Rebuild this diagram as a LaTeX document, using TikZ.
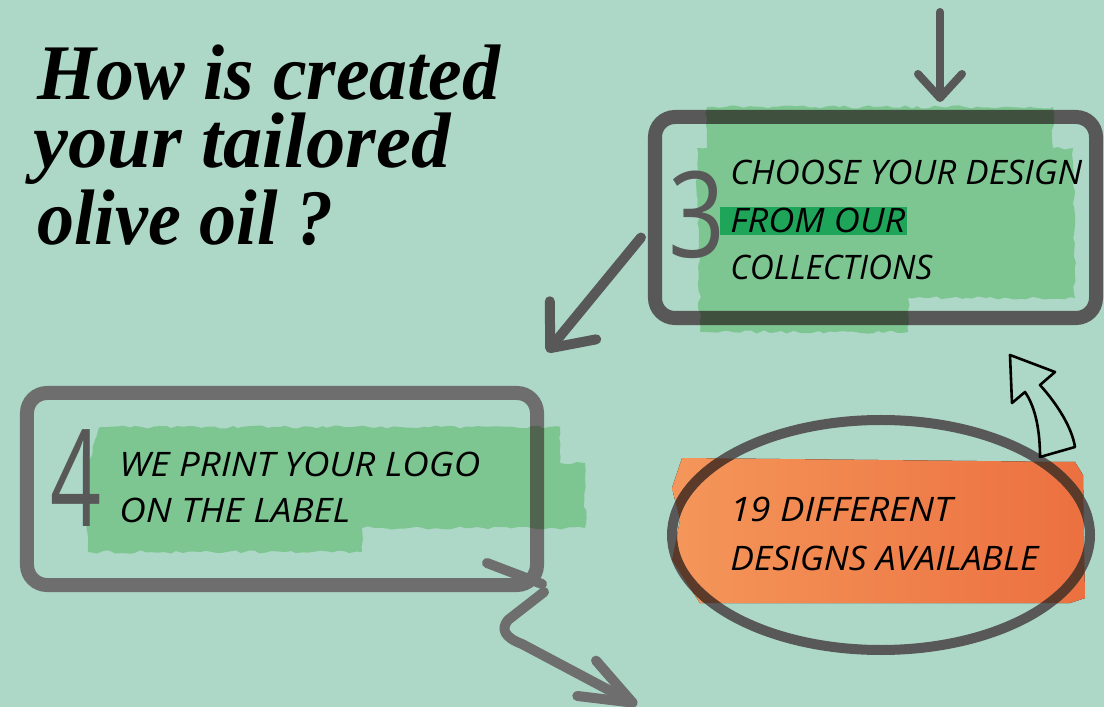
\documentclass[tikz,border=0pt]{standalone}
\usepackage{fontspec}
\usepackage{graphicx}
\usetikzlibrary{arrows.meta,shapes.geometric,decorations.pathmorphing,positioning,calc}

\newfontfamily\titlefont{Liberation Serif}
\newfontfamily\handfont{Open Sans}

\definecolor{bgmint}{RGB}{173,216,200}
\definecolor{frameA}{RGB}{88,88,88}
\definecolor{frameB}{RGB}{110,110,110}
\definecolor{brushgreen}{RGB}{187,234,185}
\definecolor{markgreen}{RGB}{30,165,90}
\definecolor{orangeL}{RGB}{244,150,90}
\definecolor{orangeR}{RGB}{236,112,64}
\definecolor{ovalbrown}{RGB}{92,58,42}

% fit a text to a given width, keep its height
\newcommand{\fitw}[2]{\resizebox{#1}{\height}{#2}}
\def\orangeblob{(682,458) -- (1075,462) -- (1083,475) -- (1085,598) -- (1070,603) -- (700,603) -- (690,588) -- (672,560) -- (680,520) -- (672,488) -- cycle}

\begin{document}
\begin{tikzpicture}[x=0.25mm,y=-0.25mm]
    \tikzset{headline/.style = {font=\titlefont\bfseries\itshape\fontsize{56}{56}\selectfont, anchor=base west, inner sep=0}}
    \tikzset{handtext/.style = {font=\handfont\itshape\fontsize{24}{24}\selectfont, anchor=base west, inner sep=0}}
    \tikzset{bignum/.style = {font=\handfont\fontsize{#1}{#1}\selectfont, text=frameA, anchor=base west, inner sep=0}}
    \tikzset{boxframe/.style = {draw, rectangle, rounded corners=5mm, line width=3.5mm, inner sep=0}}
    \tikzset{ovalring/.style = {draw, ellipse, minimum width=104.5mm, minimum height=57.5mm, line width=2.5mm, inner sep=0}}
    \tikzset{pen/.style = {line width=#1, line cap=round, line join=round}}
    \tikzset{brush/.style = {decorate, decoration={random steps, segment length=1.5mm, amplitude=0.4mm}}}
    \pgfmathsetseed{7}

    \fill[bgmint] (0,0) rectangle (1104,707);
    \useasboundingbox (0,0) rectangle (1104,707);

    % title
    \node[headline] (title1) at (37,100) {\fitw{115.75mm}{How is created}};
    \node[headline] (title2) at (33,168) {\fitw{104.25mm}{your tailored}};
    \node[headline] (title3) at (37,245) {\fitw{74mm}{olive oil ?}};

    % frames
    \node[boxframe, draw=frameA, minimum width=110.25mm, minimum height=50.25mm] (choose) at (875.5,217.5) {};
    \node[boxframe, draw=frameB, minimum width=127.5mm, minimum height=48mm] (print) at (282,489) {};

    % orange brush and oval
    \fill[left color=orangeL, right color=orangeR] \orangeblob;
    \node[ovalring, draw=frameA] (avail) at (881,535) {};
    \begin{scope}
        \clip \orangeblob;
        \node[ovalring, draw=ovalbrown] (availdark) at (avail) {};
    \end{scope}

    % green brushes
    \begin{scope}[blend mode=multiply]
        \fill[brushgreen, brush] (707,107) -- (1053,107) -- (1053,148) -- (1073,148) -- (1075,298) -- (908,298)
            -- (908,332) -- (700,332) -- (697,148) -- (707,148) -- cycle;
        \fill[brushgreen, brush] (100,427) -- (560,427) -- (560,463) -- (585,463) -- (585,528) -- (362,528)
            -- (362,552) -- (88,552) -- (86,470) -- cycle;
    \end{scope}
    \fill[markgreen] (720,207) rectangle (907,235);

    % numbers
    \node[bignum=85] (n3) at (668,258) {\fitw{14.25mm}{3}};
    \node[bignum=96] (n4) at (50,527) {\fitw{12.75mm}{4}};

    % texts
    \node[handtext] (c1) at (730,185) {\fitw{88mm}{CHOOSE YOUR DESIGN}};
    \node[handtext] (c2) at (730,233) {\fitw{43.75mm}{FROM OUR}};
    \node[handtext] (c3) at (730,280) {\fitw{50.5mm}{COLLECTIONS}};
    \node[handtext] (p1) at (119,477) {\fitw{90.25mm}{WE PRINT YOUR LOGO}};
    \node[handtext] (p2) at (119,523) {\fitw{57.75mm}{ON THE LABEL}};
    \node[handtext] (a1) at (730,522) {\fitw{55.5mm}{19 DIFFERENT}};
    \node[handtext] (a2) at (730,570) {\fitw{77mm}{DESIGNS AVAILABLE}};

    % arrows
    \coordinate (topin) at (940,12);
    \coordinate (tip34) at (547,352);
    \coordinate (tipout) at (637,705);
    \draw[pen=2mm, frameA, -{Straight Barb[length=6mm,width=11mm,round]}, shorten >=2mm] (topin) -- (topin |- choose.north);
    \draw[pen=2.5mm, frameA, -{Straight Barb[length=9mm,width=15mm,round]}] ([shift={(-7,20)}]choose.west) -- (tip34);
    \draw[pen=2.5mm, frameB, -{Straight Barb[length=13mm,width=10mm,round]}] (print.south east) -- (508,620)
        .. controls (500,630) and (506,638) .. (522,644) -- (tipout);
    \draw[pen=2.5mm, frameB] (487,563) -- ([shift={(-2,-8)}]print.south east);

    % curved arrow to step 3
    \draw[black, line width=0.65mm, line join=round] (1010,355) -- (1055,372) -- (1040,385)
        .. controls (1058,405) and (1072,428) .. (1075,447) -- (1040,457)
        .. controls (1040,432) and (1036,408) .. (1025,392) -- (1012,403) -- cycle;

\end{tikzpicture}
\end{document}
